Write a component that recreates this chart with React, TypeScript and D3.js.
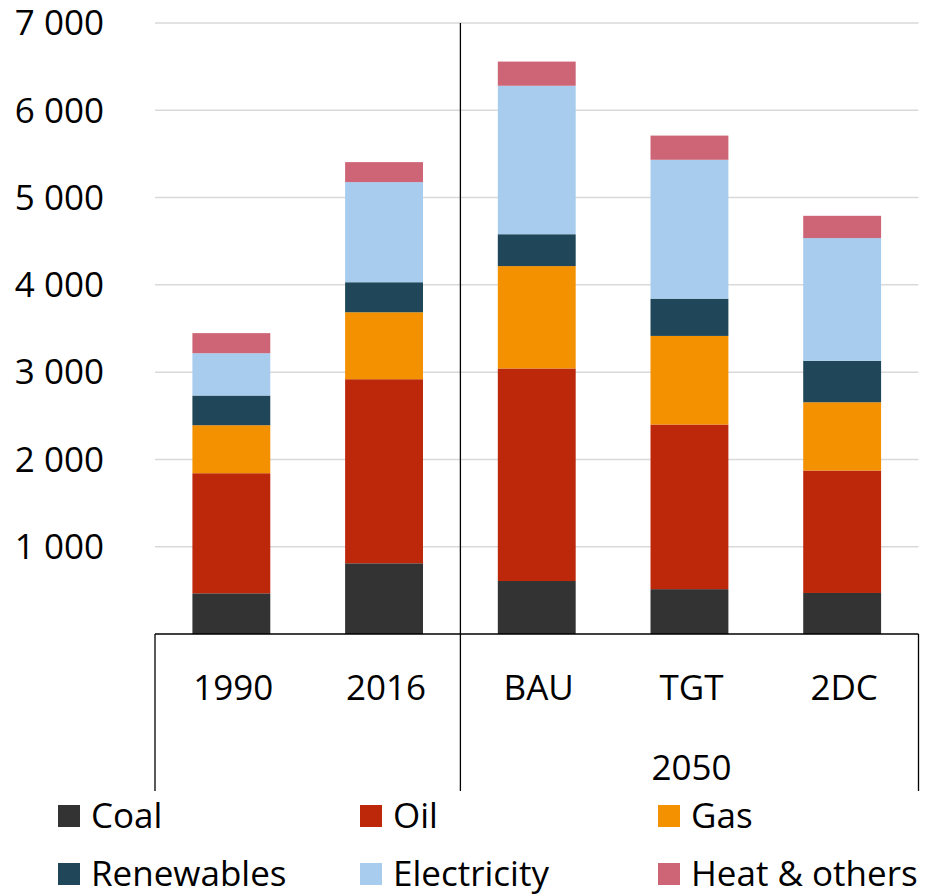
import React from "react";
import * as d3 from "d3";

const categories = ["1990", "2016", "BAU", "TGT", "2DC"];
const coal = [466, 810, 607, 514, 470];
const oil = [1376, 2109, 2435, 1886, 1403];
const gas = [550, 767, 1173, 1015, 782];
const renewables = [340, 344, 365, 427, 475];
const electricity = [485, 1147, 1701, 1591, 1406];
const heat = [230, 229, 277, 277, 255];

const seriesNames = ["Coal", "Oil", "Gas", "Renewables", "Electricity", "Heat & others"];
const seriesColors = ["#333333", "#bd280b", "#f39100", "#1f4659", "#a7ccee", "#ce6577"];
const yTicks = [1000, 2000, 3000, 4000, 5000, 6000, 7000];
const groupLabel = "2050";

const W = 925;
const H = 896;
const FONT = "'Open Sans', 'Noto Sans', sans-serif";
const FS = 35;

export default function App() {
  const x = d3.scaleBand<string>().domain(categories).range([155, 918.5]).paddingInner(0.49).paddingOuter(0.245);
  const y = d3.scaleLinear().domain([0, 7000]).range([634, 23]);

  const rows = categories.map((c, i) => ({
    cat: c,
    s0: coal[i],
    s1: oil[i],
    s2: gas[i],
    s3: renewables[i],
    s4: electricity[i],
    s5: heat[i],
  }));
  const keys = ["s0", "s1", "s2", "s3", "s4", "s5"];
  const stacked = d3.stack<any>().keys(keys)(rows);

  const fmt = (v: number) => d3.format(",")(v).replace(/,/g, " ");
  const left = 155;
  const right = 918.5;
  const step = x.step();
  const divider = left + 2 * step;
  const bottom = 791;

  const legendCols = [58, 360, 658];
  const legendRows = [816, 874];

  return (
    <svg width={W} height={H} style={{ position: "absolute", left: 0, top: 0, background: "#fff" }} fontFamily={FONT}>
      {yTicks.map((t) => (
        <g key={t}>
          <line x1={left} x2={right} y1={y(t)} y2={y(t)} stroke="#d9d9d9" strokeWidth={1.5} />
          <text x={104} y={y(t)} dy="0.35em" textAnchor="end" fontSize={FS} fill="#000">
            {fmt(t)}
          </text>
        </g>
      ))}
      {stacked.map((layer, li) => (
        <g key={li} fill={seriesColors[li]}>
          {layer.map((d: any, i: number) => (
            <rect
              key={i}
              x={x(d.data.cat)!}
              width={x.bandwidth()}
              y={y(d[1])}
              height={y(d[0]) - y(d[1])}
            />
          ))}
        </g>
      ))}
      <line x1={left} x2={right} y1={y(0)} y2={y(0)} stroke="#000" strokeWidth={1.5} />
      <line x1={left} x2={left} y1={y(0)} y2={bottom} stroke="#000" strokeWidth={1.3} />
      <line x1={divider} x2={divider} y1={y(7000)} y2={bottom} stroke="#000" strokeWidth={1.3} />
      <line x1={right} x2={right} y1={y(0)} y2={bottom} stroke="#000" strokeWidth={1.3} />
      {categories.map((c) => (
        <text key={c} x={x(c)! + x.bandwidth() / 2 + 2} y={688} dy="0.35em" textAnchor="middle" fontSize={FS} fill="#000">
          {c}
        </text>
      ))}
      <text x={x("TGT")! + x.bandwidth() / 2 + 2} y={768} dy="0.35em" textAnchor="middle" fontSize={FS} fill="#000">
        {groupLabel}
      </text>
      {seriesNames.map((n, i) => {
        const cx = legendCols[i % 3];
        const cy = legendRows[Math.floor(i / 3)];
        return (
          <g key={n}>
            <rect x={cx} y={cy - 11} width={22} height={22} fill={seriesColors[i]} />
            <text x={cx + 33} y={cy} dy="0.35em" fontSize={FS} fill="#000">
              {n}
            </text>
          </g>
        );
      })}
    </svg>
  );
}
